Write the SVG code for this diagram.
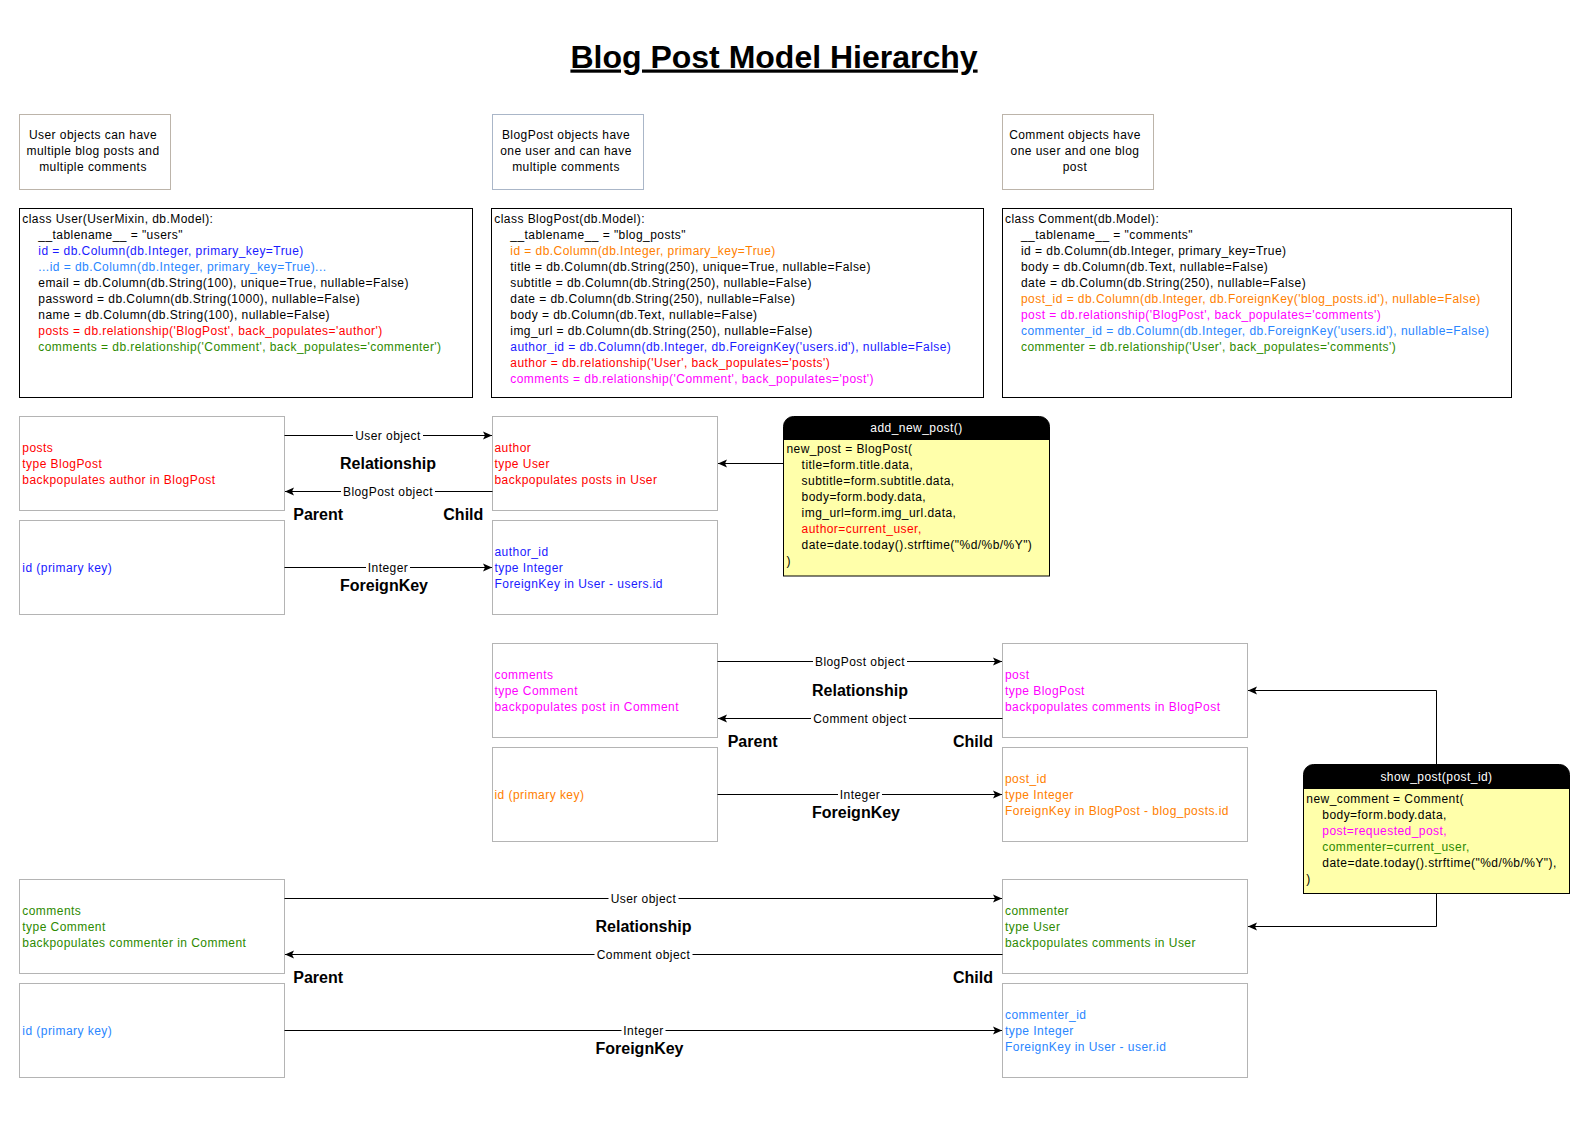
<svg xmlns="http://www.w3.org/2000/svg" width="1588" height="1123" viewBox="0 0 1588 1123">
<style>
text{font-family:"Liberation Sans",Arial,Helvetica,sans-serif;font-size:12px;fill:#000;letter-spacing:0.45px}
.box{fill:#fff;stroke:#b4b4b4;stroke-width:1}
.code{fill:#fff;stroke:#000;stroke-width:1}
.note{fill:#fff;stroke:#bcb4aa;stroke-width:1}
.hdr{fill:#000}
.yel{fill:#ffffaa;stroke:#000;stroke-width:1}
.ht{fill:#fff;text-anchor:middle}
.mid{text-anchor:middle}
.end{text-anchor:end}
.bold{font-weight:bold;font-size:16px;letter-spacing:0}
.ttl{font-size:32px;font-weight:bold;letter-spacing:0;text-decoration:underline}
.red{fill:#ff0000}
.blue{fill:#1a1aff}
.lblue{fill:#2a86ff}
.orange{fill:#ff8000}
.mag{fill:#ff00ff}
.green{fill:#2d8a00}
.ln{fill:none;stroke:#000;stroke-width:1}
.lbg{fill:#fff}
</style>
<defs>
<marker id="arr" markerUnits="userSpaceOnUse" markerWidth="10" markerHeight="10" refX="9" refY="5" orient="auto">
<path d="M0,1 L9,5 L0,9 L2,5 Z" fill="#000"/>
</marker>
</defs>
<rect width="1588" height="1123" fill="#fff"/>

<g id="title">
<text x="774" y="67.5" class="mid ttl">Blog Post Model Hierarchy</text>
</g>

<g id="note-user">
<rect class="note" x="19.5" y="114.5" width="151" height="75"/>
<text class="mid" x="93" y="139.3">User objects can have</text>
<text class="mid" x="93" y="155.3">multiple blog posts and</text>
<text class="mid" x="93" y="171.3">multiple comments</text>
</g>
<g id="note-blogpost">
<rect class="note" x="492.5" y="114.5" width="151" height="75" style="stroke:#aab6c8"/>
<text class="mid" x="566" y="139.3">BlogPost objects have</text>
<text class="mid" x="566" y="155.3">one user and can have</text>
<text class="mid" x="566" y="171.3">multiple comments</text>
</g>
<g id="note-comment">
<rect class="note" x="1002.5" y="114.5" width="151" height="75"/>
<text class="mid" x="1075" y="139.3">Comment objects have</text>
<text class="mid" x="1075" y="155.3">one user and one blog</text>
<text class="mid" x="1075" y="171.3">post</text>
</g>

<g id="class-user">
<rect class="code" x="19.5" y="208.5" width="453" height="189"/>
<text x="22.3" y="223.3">class User(UserMixin, db.Model):</text>
<text x="38.3" y="239.3">__tablename__ = "users"</text>
<text x="38.3" y="255.3" class="blue">id = db.Column(db.Integer, primary_key=True)</text>
<text x="38.3" y="271.3" class="lblue">...id = db.Column(db.Integer, primary_key=True)...</text>
<text x="38.3" y="287.3">email = db.Column(db.String(100), unique=True, nullable=False)</text>
<text x="38.3" y="303.3">password = db.Column(db.String(1000), nullable=False)</text>
<text x="38.3" y="319.3">name = db.Column(db.String(100), nullable=False)</text>
<text x="38.3" y="335.3" class="red">posts = db.relationship('BlogPost', back_populates='author')</text>
<text x="38.3" y="351.3" class="green">comments = db.relationship('Comment', back_populates='commenter')</text>
</g>

<g id="class-blogpost">
<rect class="code" x="491.5" y="208.5" width="492" height="189"/>
<text x="494.3" y="223.3">class BlogPost(db.Model):</text>
<text x="510.3" y="239.3">__tablename__ = "blog_posts"</text>
<text x="510.3" y="255.3" class="orange">id = db.Column(db.Integer, primary_key=True)</text>
<text x="510.3" y="271.3">title = db.Column(db.String(250), unique=True, nullable=False)</text>
<text x="510.3" y="287.3">subtitle = db.Column(db.String(250), nullable=False)</text>
<text x="510.3" y="303.3">date = db.Column(db.String(250), nullable=False)</text>
<text x="510.3" y="319.3">body = db.Column(db.Text, nullable=False)</text>
<text x="510.3" y="335.3">img_url = db.Column(db.String(250), nullable=False)</text>
<text x="510.3" y="351.3" class="blue">author_id = db.Column(db.Integer, db.ForeignKey('users.id'), nullable=False)</text>
<text x="510.3" y="367.3" class="red">author = db.relationship('User', back_populates='posts')</text>
<text x="510.3" y="383.3" class="mag">comments = db.relationship('Comment', back_populates='post')</text>
</g>

<g id="class-comment">
<rect class="code" x="1002.5" y="208.5" width="509" height="189"/>
<text x="1005" y="223.3">class Comment(db.Model):</text>
<text x="1021" y="239.3">__tablename__ = "comments"</text>
<text x="1021" y="255.3">id = db.Column(db.Integer, primary_key=True)</text>
<text x="1021" y="271.3">body = db.Column(db.Text, nullable=False)</text>
<text x="1021" y="287.3">date = db.Column(db.String(250), nullable=False)</text>
<text x="1021" y="303.3" class="orange">post_id = db.Column(db.Integer, db.ForeignKey('blog_posts.id'), nullable=False)</text>
<text x="1021" y="319.3" class="mag">post = db.relationship('BlogPost', back_populates='comments')</text>
<text x="1021" y="335.3" class="lblue">commenter_id = db.Column(db.Integer, db.ForeignKey('users.id'), nullable=False)</text>
<text x="1021" y="351.3" class="green">commenter = db.relationship('User', back_populates='comments')</text>
</g>

<!-- Row 1 -->
<g id="user-posts">
<rect class="box" x="19.5" y="416.5" width="265" height="94"/>
<text x="22.3" y="451.5" class="red">posts</text>
<text x="22.3" y="467.5" class="red">type BlogPost</text>
<text x="22.3" y="483.5" class="red">backpopulates author in BlogPost</text>
</g>
<g id="user-id-1">
<rect class="box" x="19.5" y="520.5" width="265" height="94"/>
<text x="22.3" y="571.5" class="blue">id (primary key)</text>
</g>
<g id="blogpost-author">
<rect class="box" x="492.5" y="416.5" width="225" height="94"/>
<text x="494.5" y="451.5" class="red">author</text>
<text x="494.5" y="467.5" class="red">type User</text>
<text x="494.5" y="483.5" class="red">backpopulates posts in User</text>
</g>
<g id="blogpost-author-id">
<rect class="box" x="492.5" y="520.5" width="225" height="94"/>
<text x="494.5" y="555.5" class="blue">author_id</text>
<text x="494.5" y="571.5" class="blue">type Integer</text>
<text x="494.5" y="587.5" class="blue">ForeignKey in User - users.id</text>
</g>
<g id="add-new-post">
<path class="hdr" d="M783.5,439.5 V426.5 A10,10 0 0 1 793.5,416.5 H1039.5 A10,10 0 0 1 1049.5,426.5 V439.5 Z" stroke="#000"/>
<rect class="yel" x="783.5" y="439.5" width="266" height="136.5"/>
<text x="916.5" y="432" class="ht">add_new_post()</text>
<text x="786.4" y="453.3">new_post = BlogPost(</text>
<text x="801.6" y="469.3">title=form.title.data,</text>
<text x="801.6" y="485.3">subtitle=form.subtitle.data,</text>
<text x="801.6" y="501.3">body=form.body.data,</text>
<text x="801.6" y="517.3">img_url=form.img_url.data,</text>
<text x="801.6" y="533.3" class="red">author=current_user,</text>
<text x="801.6" y="549.3">date=date.today().strftime("%d/%b/%Y")</text>
<text x="786.4" y="565.3">)</text>
</g>

<!-- Row 2 -->
<g id="blogpost-comments">
<rect class="box" x="492.5" y="643.5" width="225" height="94"/>
<text x="494.5" y="678.5" class="mag">comments</text>
<text x="494.5" y="694.5" class="mag">type Comment</text>
<text x="494.5" y="710.5" class="mag">backpopulates post in Comment</text>
</g>
<g id="blogpost-id">
<rect class="box" x="492.5" y="747.5" width="225" height="94"/>
<text x="494.5" y="798.5" class="orange">id (primary key)</text>
</g>
<g id="comment-post">
<rect class="box" x="1002.5" y="643.5" width="245" height="94"/>
<text x="1005" y="678.5" class="mag">post</text>
<text x="1005" y="694.5" class="mag">type BlogPost</text>
<text x="1005" y="710.5" class="mag">backpopulates comments in BlogPost</text>
</g>
<g id="comment-post-id">
<rect class="box" x="1002.5" y="747.5" width="245" height="94"/>
<text x="1005" y="782.5" class="orange">post_id</text>
<text x="1005" y="798.5" class="orange">type Integer</text>
<text x="1005" y="814.5" class="orange">ForeignKey in BlogPost - blog_posts.id</text>
</g>
<g id="show-post">
<path class="hdr" d="M1303.5,788.5 V774.5 A10,10 0 0 1 1313.5,764.5 H1559.5 A10,10 0 0 1 1569.5,774.5 V788.5 Z" stroke="#000"/>
<rect class="yel" x="1303.5" y="788.5" width="266" height="105"/>
<text x="1436.5" y="781" class="ht">show_post(post_id)</text>
<text x="1306.3" y="803.3">new_comment = Comment(</text>
<text x="1322.3" y="819.3">body=form.body.data,</text>
<text x="1322.3" y="835.3" class="mag">post=requested_post,</text>
<text x="1322.3" y="851.3" class="green">commenter=current_user,</text>
<text x="1322.3" y="867.3">date=date.today().strftime("%d/%b/%Y"),</text>
<text x="1306.3" y="883.3">)</text>
</g>

<!-- Row 3 -->
<g id="user-comments">
<rect class="box" x="19.5" y="879.5" width="265" height="94"/>
<text x="22.3" y="914.5" class="green">comments</text>
<text x="22.3" y="930.5" class="green">type Comment</text>
<text x="22.3" y="946.5" class="green">backpopulates commenter in Comment</text>
</g>
<g id="user-id-2">
<rect class="box" x="19.5" y="983.5" width="265" height="94"/>
<text x="22.3" y="1034.5" class="lblue">id (primary key)</text>
</g>
<g id="comment-commenter">
<rect class="box" x="1002.5" y="879.5" width="245" height="94"/>
<text x="1005" y="914.5" class="green">commenter</text>
<text x="1005" y="930.5" class="green">type User</text>
<text x="1005" y="946.5" class="green">backpopulates comments in User</text>
</g>
<g id="comment-commenter-id">
<rect class="box" x="1002.5" y="983.5" width="245" height="94"/>
<text x="1005" y="1018.5" class="lblue">commenter_id</text>
<text x="1005" y="1034.5" class="lblue">type Integer</text>
<text x="1005" y="1050.5" class="lblue">ForeignKey in User - user.id</text>
</g>

<g id="connectors">
<!-- row 1 -->
<line class="ln" x1="284.5" y1="435.5" x2="492" y2="435.5" marker-end="url(#arr)"/>
<rect class="lbg" x="353" y="428" width="70" height="15"/>
<text class="mid" x="388" y="439.5">User object</text>
<line class="ln" x1="492.5" y1="491.5" x2="285" y2="491.5" marker-end="url(#arr)"/>
<rect class="lbg" x="341" y="484" width="94" height="15"/>
<text class="mid" x="388" y="495.5">BlogPost object</text>
<line class="ln" x1="284.5" y1="567.5" x2="492" y2="567.5" marker-end="url(#arr)"/>
<rect class="lbg" x="366" y="560" width="44" height="15"/>
<text class="mid" x="388" y="571.5">Integer</text>
<line class="ln" x1="783.5" y1="463.5" x2="718" y2="463.5" marker-end="url(#arr)"/>
<text class="mid bold" x="388" y="468.5">Relationship</text>
<text class="bold" x="293.3" y="520">Parent</text>
<text class="bold end" x="483.3" y="520">Child</text>
<text class="mid bold" x="384" y="590.5">ForeignKey</text>

<!-- row 2 -->
<line class="ln" x1="717.5" y1="661.5" x2="1002" y2="661.5" marker-end="url(#arr)"/>
<rect class="lbg" x="813" y="654" width="94" height="15"/>
<text class="mid" x="860" y="665.5">BlogPost object</text>
<line class="ln" x1="1002.5" y1="718.5" x2="718" y2="718.5" marker-end="url(#arr)"/>
<rect class="lbg" x="811" y="711" width="98" height="15"/>
<text class="mid" x="860" y="722.5">Comment object</text>
<line class="ln" x1="717.5" y1="794.5" x2="1002" y2="794.5" marker-end="url(#arr)"/>
<rect class="lbg" x="838" y="787" width="44" height="15"/>
<text class="mid" x="860" y="798.5">Integer</text>
<text class="mid bold" x="860" y="695.5">Relationship</text>
<text class="bold" x="727.7" y="747.4">Parent</text>
<text class="bold end" x="993" y="747.4">Child</text>
<text class="mid bold" x="856" y="818">ForeignKey</text>
<path class="ln" d="M1436.5,764.5 V690.5 H1248" marker-end="url(#arr)"/>
<path class="ln" d="M1436.5,894 V926.5 H1248" marker-end="url(#arr)"/>

<!-- row 3 -->
<line class="ln" x1="284.5" y1="898.5" x2="1002" y2="898.5" marker-end="url(#arr)"/>
<rect class="lbg" x="608.5" y="891" width="70" height="15"/>
<text class="mid" x="643.5" y="902.5">User object</text>
<line class="ln" x1="1002.5" y1="954.5" x2="285" y2="954.5" marker-end="url(#arr)"/>
<rect class="lbg" x="594.5" y="947" width="98" height="15"/>
<text class="mid" x="643.5" y="958.5">Comment object</text>
<line class="ln" x1="284.5" y1="1030.5" x2="1002" y2="1030.5" marker-end="url(#arr)"/>
<rect class="lbg" x="621.5" y="1023" width="44" height="15"/>
<text class="mid" x="643.5" y="1034.5">Integer</text>
<text class="mid bold" x="643.5" y="931.5">Relationship</text>
<text class="bold" x="293.3" y="983">Parent</text>
<text class="bold end" x="993" y="983">Child</text>
<text class="mid bold" x="639.5" y="1053.8">ForeignKey</text>
</g>
</svg>
